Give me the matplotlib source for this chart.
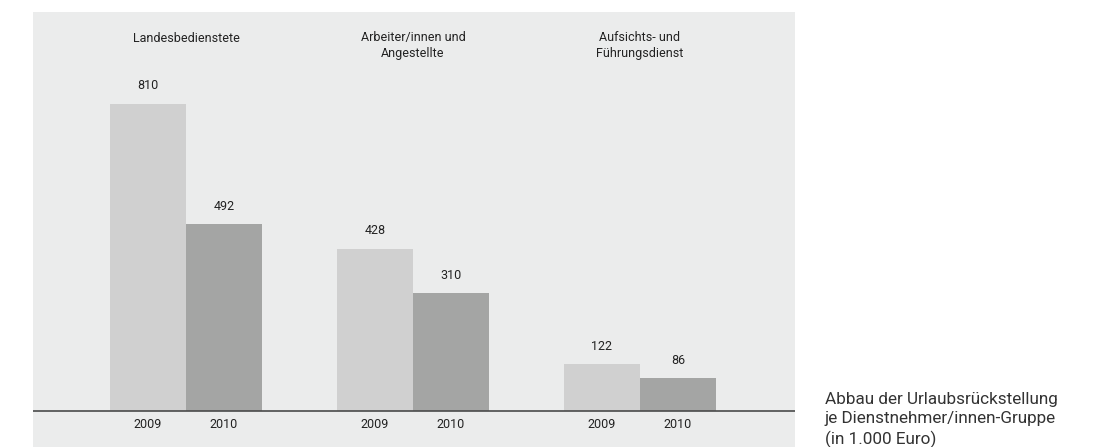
import matplotlib
matplotlib.use("Agg")
import matplotlib.pyplot as plt
import numpy as np

plt.rcParams["font.family"] = ["Roboto", "DejaVu Sans"]

groups = ["Landesbedienstete", "Arbeiter/innen und\nAngestellte", "Aufsichts- und\nFührungsdienst"]
years = ["2009", "2010"]
values_2009 = [810, 428, 122]
values_2010 = [492, 310, 86]
caption = "Abbau der Urlaubsrückstellung\nje Dienstnehmer/innen-Gruppe\n(in 1.000 Euro)"

W, H = 1095, 447
fig = plt.figure(figsize=(W / 100, H / 100), dpi=100)
fig.patch.set_facecolor("white")

# grey panel: x 33..795 px, y 12..447 px measured from the top
ax = fig.add_axes([33 / W, 0, (795 - 33) / W, (447 - 12) / H])
ax.set_facecolor("#ebecec")

x = np.arange(len(groups))
bw = 0.335
c09, c10 = "#d0d0d0", "#a4a5a4"
txt = "#222222"
fs = 9

b1 = ax.bar(x - bw / 2, values_2009, bw, color=c09, zorder=2)
b2 = ax.bar(x + bw / 2, values_2010, bw, color=c10, zorder=2)
ax.axhline(0, color="#4a4a4a", lw=1.2, zorder=3)

for bars, vals in ((b1, values_2009), (b2, values_2010)):
    for rect, v in zip(bars, vals):
        cx = rect.get_x() + rect.get_width() / 2
        ax.annotate(f"{v}", (cx, v), xytext=(0, 13), textcoords="offset points",
                    ha="center", va="center", fontsize=fs, color=txt)

for i in range(len(groups)):
    for off, yr in ((-bw / 2, years[0]), (bw / 2, years[1])):
        ax.annotate(yr, (x[i] + off, 0), xytext=(0, -10.3), textcoords="offset points",
                    ha="center", va="center", fontsize=fs, color=txt)

# group titles above the bars
for i, g in enumerate(groups):
    nlines = g.count("\n") + 1
    ypx = 38 if nlines == 1 else 45.5
    ax.text(x[i], (447 - ypx) / (447 - 12), g, transform=ax.get_xaxis_transform(),
            ha="center", va="center", fontsize=fs, color=txt, linespacing=1.3)

ax.set_xlim(-0.674, 2.683)
ax.set_ylim(-95.9, 1053)
ax.set_xticks([])
ax.set_yticks([])
for s in ax.spines.values():
    s.set_visible(False)

fig.text(825 / W, (H - 420) / H, caption, ha="left", va="center",
         fontsize=12.3, color="#333333", linespacing=1.38)

fig.savefig("out.png", dpi=100)
